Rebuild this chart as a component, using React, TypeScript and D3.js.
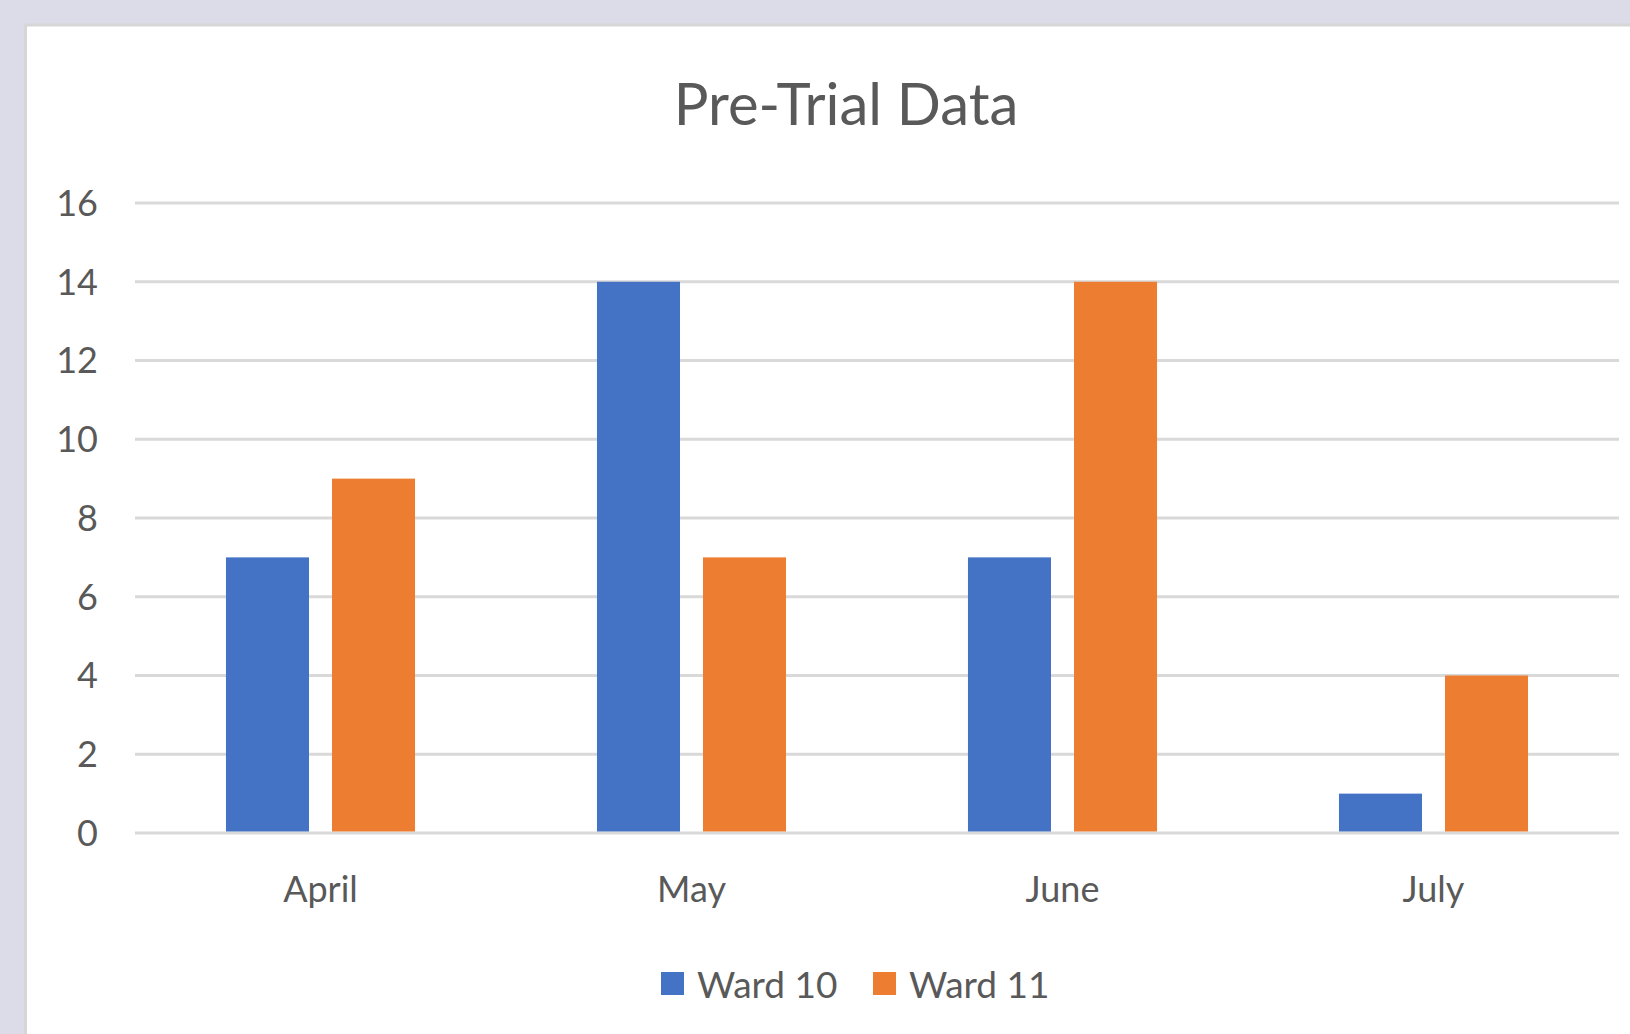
import React, { useEffect, useRef } from 'react';
import * as d3 from 'd3';

// Chart data
const months = ['April', 'May', 'June', 'July'];
const seriesNames = ['Ward 10', 'Ward 11'];
const ward10 = [7, 14, 7, 1];
const ward11 = [9, 7, 14, 4];
const yTicks = [0, 2, 4, 6, 8, 10, 12, 14, 16];

const colors = ['#4472C4', '#ED7D31'];

const App = () => {
  const svgRef = useRef<SVGSVGElement>(null);

  useEffect(() => {
    const svg = d3.select(svgRef.current);
    svg.selectAll('*').remove();

    const W = 1630;
    const H = 1034;
    const font = 'Lato, Calibri, "Open Sans", sans-serif';
    const textColor = '#595959';

    svg.attr('width', W).attr('height', H);

    // page background + chart panel
    svg.append('rect').attr('width', W).attr('height', H).attr('fill', '#dcdbe8');
    svg.append('rect')
      .attr('x', 25.5).attr('y', 25)
      .attr('width', W + 10).attr('height', H + 10)
      .attr('fill', '#ffffff')
      .attr('stroke', '#d6d6d6')
      .attr('stroke-width', 3);

    const plot = { left: 135, right: 1619, top: 203, bottom: 833 };

    const x0 = d3.scaleBand<string>()
      .domain(months)
      .range([plot.left, plot.right])
      .padding(0);

    const x1 = d3.scaleBand<string>()
      .domain(seriesNames)
      .range([0, x0.bandwidth()])
      .paddingInner(0.217)
      .paddingOuter(0.858);

    const y = d3.scaleLinear().domain([0, 16]).range([plot.bottom, plot.top]);

    // gridlines
    svg.append('g')
      .selectAll('line')
      .data(yTicks)
      .enter().append('line')
      .attr('x1', plot.left)
      .attr('x2', plot.right)
      .attr('y1', d => y(d))
      .attr('y2', d => y(d))
      .attr('stroke', '#d9d9d9')
      .attr('stroke-width', 3);

    // y tick labels
    svg.append('g')
      .selectAll('text')
      .data(yTicks)
      .enter().append('text')
      .attr('x', 98)
      .attr('y', d => y(d))
      .attr('dy', '0.36em')
      .attr('text-anchor', 'end')
      .style('font-family', font)
      .style('font-size', '36px')
      .style('fill', textColor)
      .text(d => d);

    // bars
    const rows = months.map((m, i) => ({ month: m, values: [ward10[i], ward11[i]] }));
    const groups = svg.append('g')
      .selectAll('g')
      .data(rows)
      .enter().append('g')
      .attr('transform', d => `translate(${x0(d.month)},0)`);

    groups.selectAll('rect')
      .data(d => d.values.map((v, k) => ({ name: seriesNames[k], value: v, k })))
      .enter().append('rect')
      .attr('x', d => x1(d.name)!)
      .attr('width', x1.bandwidth())
      .attr('y', d => y(d.value))
      .attr('height', d => y(0) - 1.5 - y(d.value))
      .attr('fill', d => colors[d.k]);

    // category labels
    svg.append('g')
      .selectAll('text')
      .data(months)
      .enter().append('text')
      .attr('x', d => x0(d)! + x0.bandwidth() / 2)
      .attr('y', 902)
      .attr('text-anchor', 'middle')
      .style('font-family', font)
      .style('font-size', '36px')
      .style('fill', textColor)
      .text(d => d);

    // title
    svg.append('text')
      .attr('x', 846)
      .attr('y', 125)
      .attr('text-anchor', 'middle')
      .style('font-family', font)
      .style('font-size', '58px')
      .style('fill', textColor)
      .text('Pre-Trial Data');

    // legend
    const legendX = [661, 873];
    const legend = svg.append('g')
      .selectAll('g')
      .data(seriesNames)
      .enter().append('g')
      .attr('transform', (d, i) => `translate(${legendX[i]},0)`);

    legend.append('rect')
      .attr('x', 0)
      .attr('y', 972)
      .attr('width', 23)
      .attr('height', 23)
      .attr('fill', (d, i) => colors[i]);

    legend.append('text')
      .attr('x', 36)
      .attr('y', 998)
      .style('font-family', font)
      .style('font-size', '37px')
      .style('fill', textColor)
      .text(d => d);
  }, []);

  return (
    <div>
      <style>{'body{margin:0;overflow:hidden}'}</style>
      <svg ref={svgRef} style={{ display: 'block' }}></svg>
    </div>
  );
};

export default App;
